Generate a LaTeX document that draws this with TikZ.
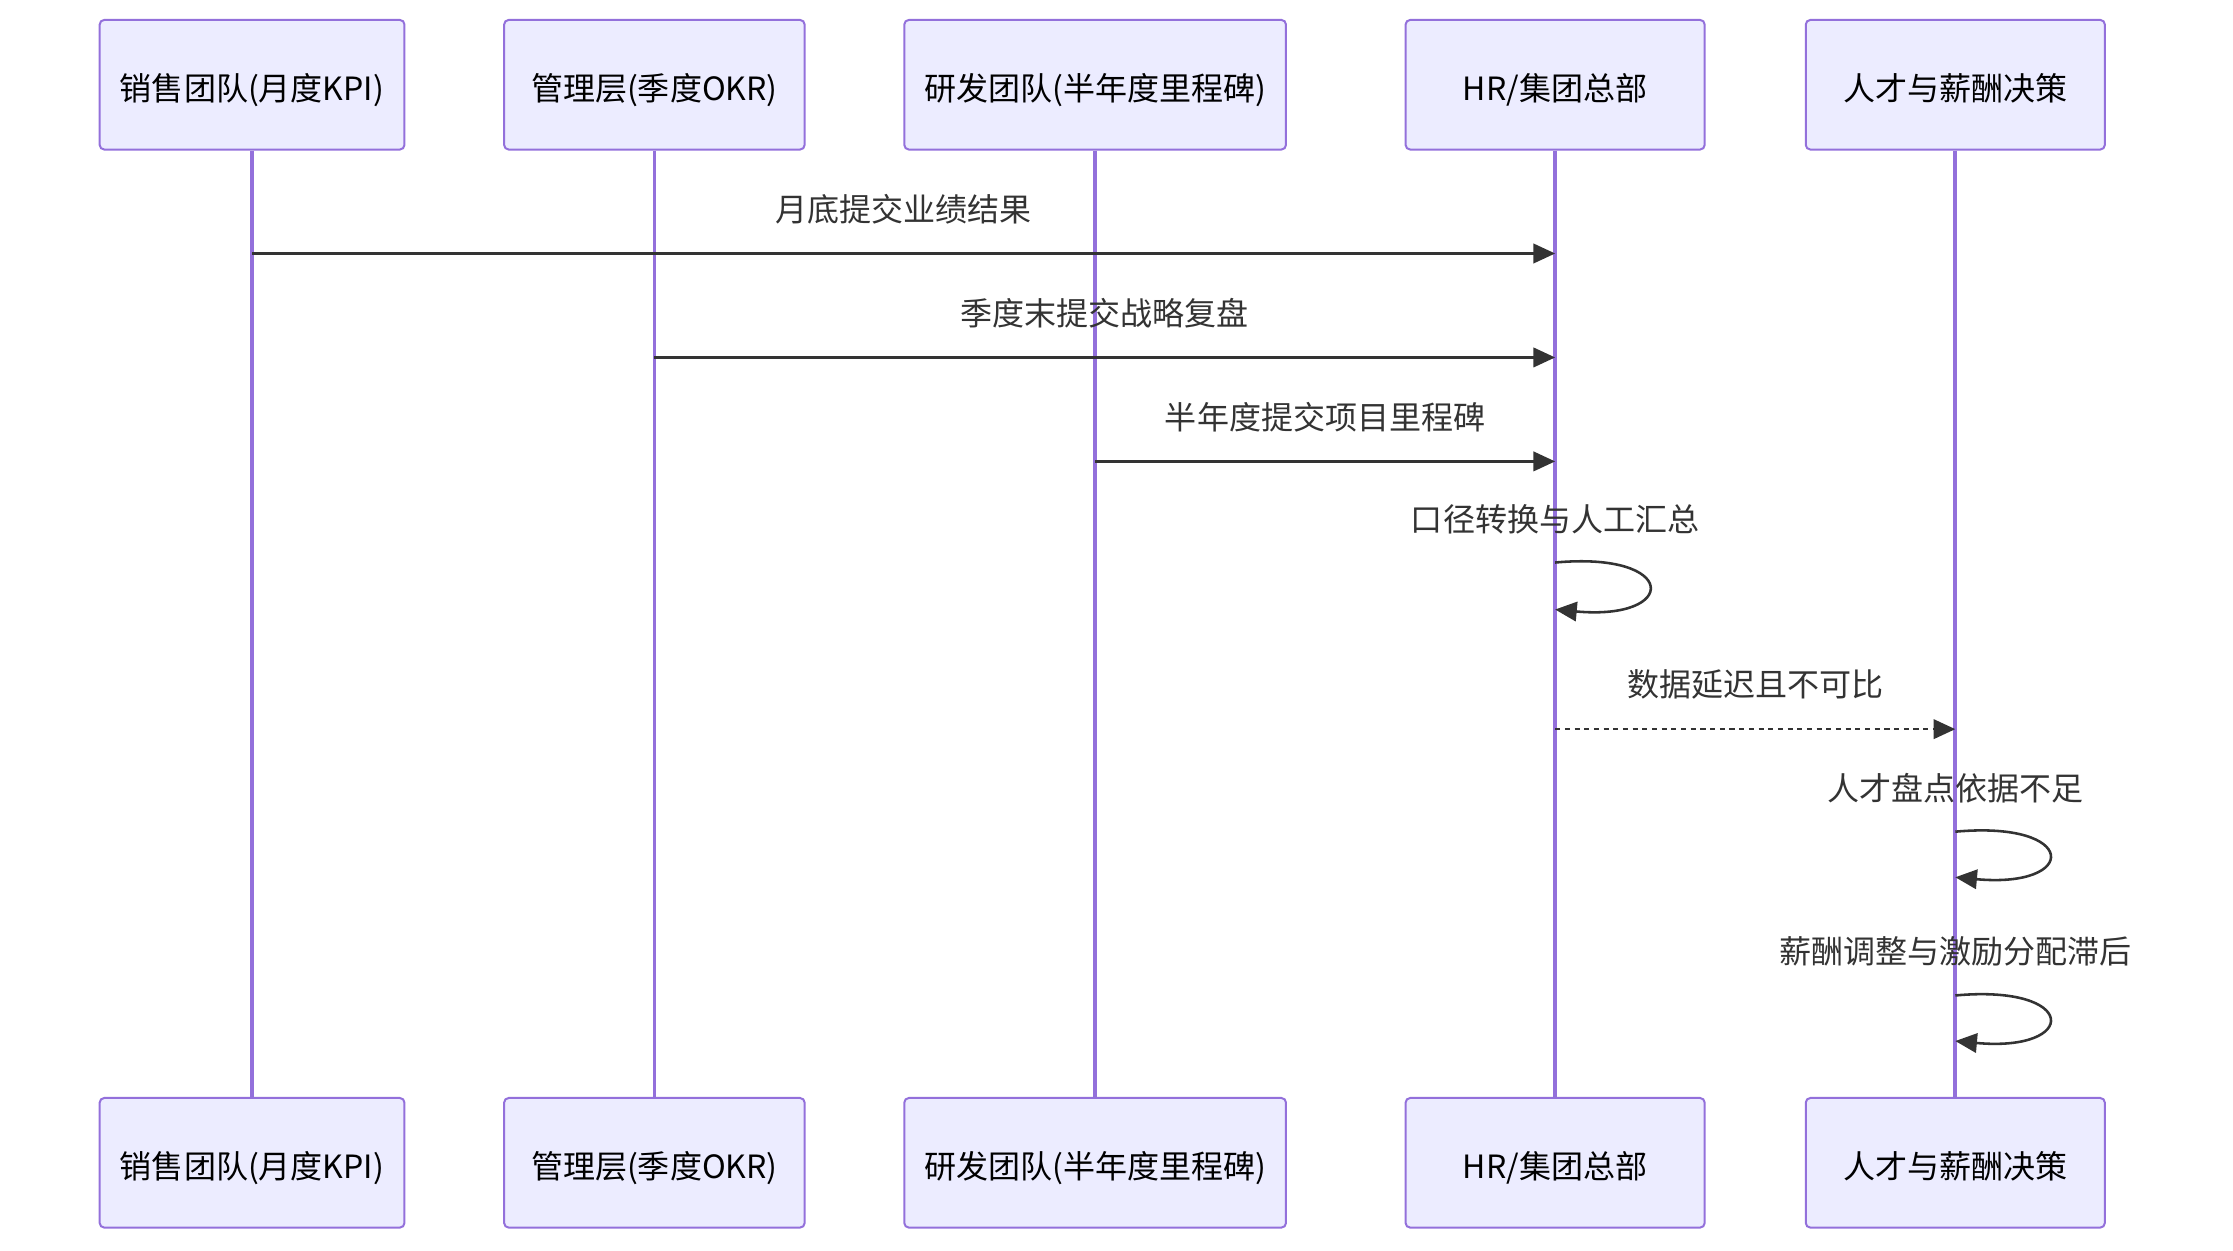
\documentclass[tikz,border=0pt]{standalone}
\usepackage{fontspec}
\setmainfont{Noto Sans CJK SC}
\usepackage{xcolor}
\usepackage{tikz}
\usetikzlibrary{arrows.meta,positioning,calc}

\definecolor{actorfill}{HTML}{ECECFF}
\definecolor{actorline}{HTML}{9370DB}
\definecolor{msgline}{HTML}{333333}

\begin{document}
\begin{tikzpicture}[x=0.25mm, y=-0.25mm,
    actor/.style={draw=actorline, fill=actorfill, line width=0.35mm, rounded corners=0.8mm,
        minimum width=52.5mm, minimum height=22.75mm, inner sep=0,
        text height=6.4mm, text depth=1mm,
        font=\fontsize{16pt}{19pt}\selectfont},
    lifeline/.style={actorline, line width=0.65mm},
    msg/.style={msgline, line width=0.45mm, -{Triangle[length=3.8mm, width=3.4mm]}},
    reply/.style={msg, dash pattern=on 0.9mm off 0.8mm},
    msglabel/.style={text=msgline, inner sep=0, font=\fontsize{16pt}{19pt}\selectfont}]
    \useasboundingbox (0,0) rectangle (1568,878);

    % Actors (top)
    \node[actor, minimum width=53.5mm] (salesTop) at (177,59.5) {销售团队(月度KPI)};
    \node[actor, minimum width=52.75mm] (mgmtTop) at (459.5,59.5) {管理层(季度OKR)};
    \node[actor, minimum width=67mm] (rndTop) at (769,59.5) {研发团队(半年度里程碑)};
    \node[actor] (hrTop) at (1092,59.5) {HR/集团总部};
    \node[actor] (talentTop) at (1373,59.5) {人才与薪酬决策};

    % Actors (bottom)
    \node[actor, minimum width=53.5mm] (salesBot) at (177,816.5) {销售团队(月度KPI)};
    \node[actor, minimum width=52.75mm] (mgmtBot) at (459.5,816.5) {管理层(季度OKR)};
    \node[actor, minimum width=67mm] (rndBot) at (769,816.5) {研发团队(半年度里程碑)};
    \node[actor] (hrBot) at (1092,816.5) {HR/集团总部};
    \node[actor] (talentBot) at (1373,816.5) {人才与薪酬决策};

    % Lifelines
    \foreach \who in {sales, mgmt, rnd, hr, talent} {
        \draw[lifeline] (\who Top.south) -- (\who Bot.north);
    }

    % Points on the lifelines
    \coordinate (sales1) at (salesTop |- 0,178);
    \coordinate (hr1) at (hrTop |- 0,178);
    \coordinate (mgmt2) at (mgmtTop |- 0,251);
    \coordinate (hr2) at (hrTop |- 0,251);
    \coordinate (rnd3) at (rndTop |- 0,324);
    \coordinate (hr3) at (hrTop |- 0,324);
    \coordinate (hr4a) at (hrTop |- 0,395);
    \coordinate (hr4b) at (hrTop |- 0,428);
    \coordinate (hr5) at (hrTop |- 0,512);
    \coordinate (talent5) at (talentTop |- 0,512);
    \coordinate (talent6a) at (talentTop |- 0,584);
    \coordinate (talent6b) at (talentTop |- 0,616);
    \coordinate (talent7a) at (talentTop |- 0,699);
    \coordinate (talent7b) at (talentTop |- 0,731);

    % Messages
    \draw[msg] (sales1) -- (hr1) node[msglabel, midway, above=5mm] {月底提交业绩结果};
    \draw[msg] (mgmt2) -- (hr2) node[msglabel, midway, above=5mm] {季度末提交战略复盘};
    \draw[msg] (rnd3) -- (hr3) node[msglabel, midway, above=5mm] {半年度提交项目里程碑};

    % Self messages
    \node[msglabel, above=5mm of hr4a] (note4) {口径转换与人工汇总};
    \draw[msg] (hr4a) .. controls ($(hr4a)+(87,-8)$) and ($(hr4b)+(87,8)$) .. (hr4b);

    \draw[reply] (hr5) -- (talent5) node[msglabel, midway, above=5mm] {数据延迟且不可比};

    \node[msglabel, above=5mm of talent6a] (note6) {人才盘点依据不足};
    \draw[msg] (talent6a) .. controls ($(talent6a)+(87,-8)$) and ($(talent6b)+(87,8)$) .. (talent6b);

    \node[msglabel, above=5mm of talent7a] (note7) {薪酬调整与激励分配滞后};
    \draw[msg] (talent7a) .. controls ($(talent7a)+(87,-8)$) and ($(talent7b)+(87,8)$) .. (talent7b);
\end{tikzpicture}
\end{document}
